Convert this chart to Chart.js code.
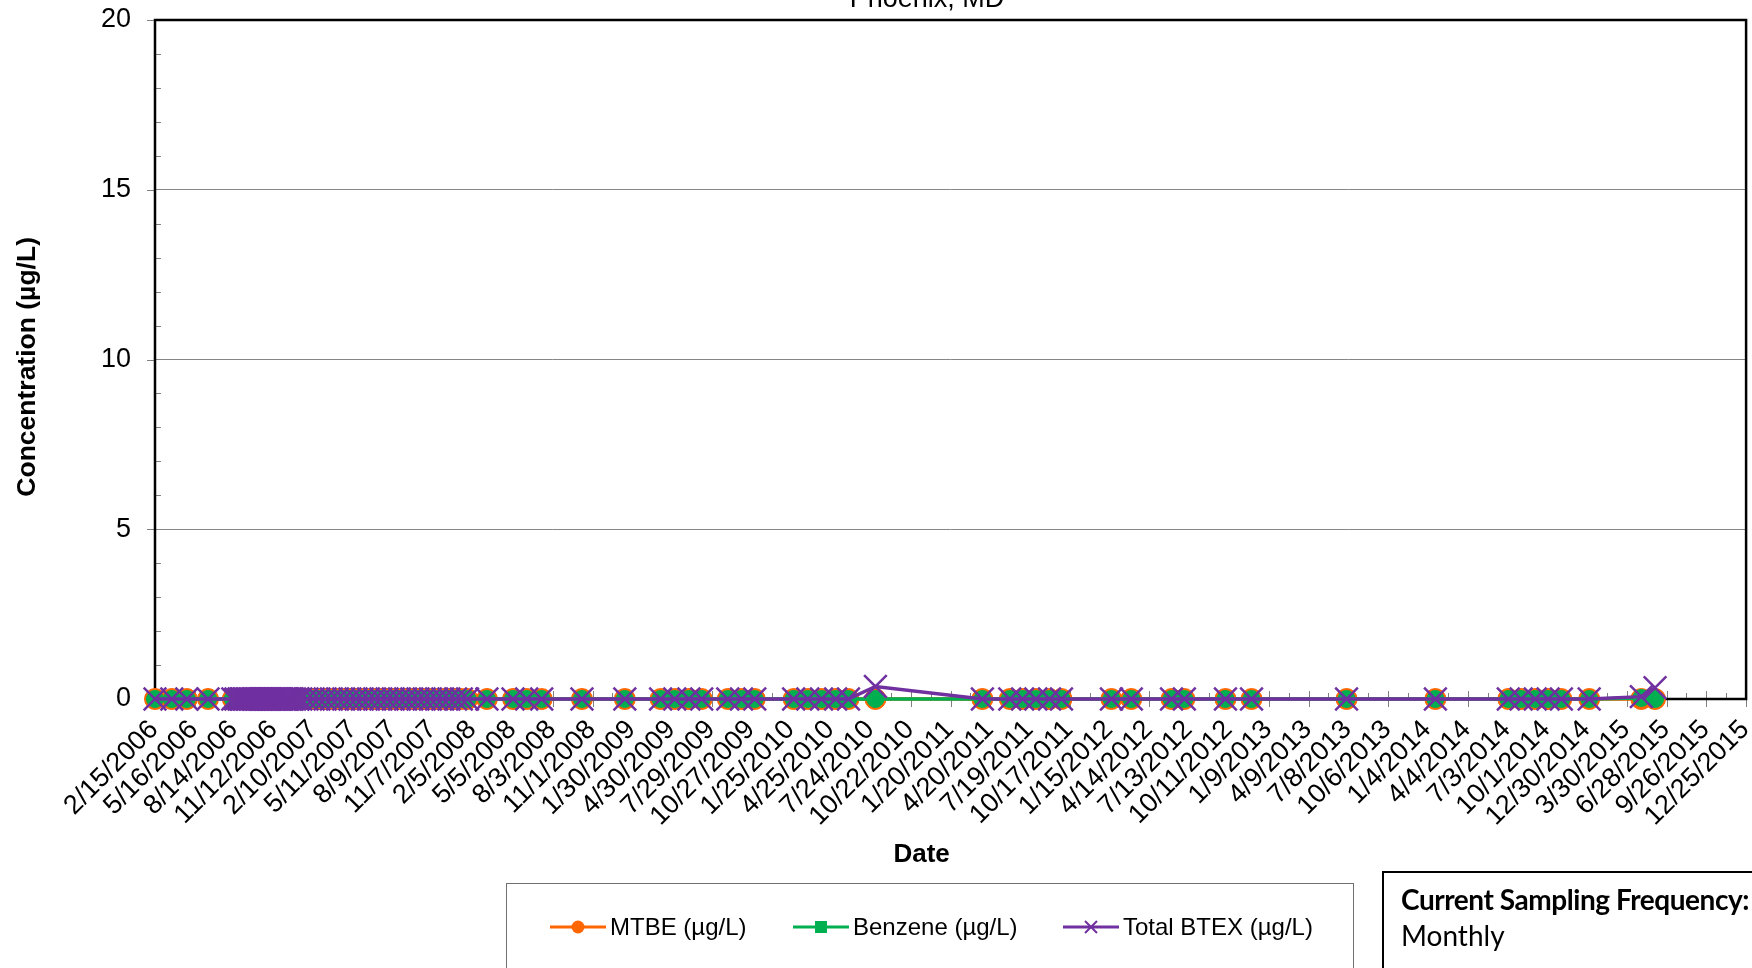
<!DOCTYPE html>
<html>
<head>
<meta charset="utf-8">
<script src="https://cdn.jsdelivr.net/npm/chart.js@4.4.1/dist/chart.umd.min.js"></script>
<style>
  html, body { margin: 0; padding: 0; background: #fff; overflow: hidden; width: 1752px; height: 968px; }
  #wrap { position: absolute; left: 0; top: 0; width: 1769px; height: 968px; }
  #site { position: absolute; left: 727px; top: -15px; width: 400px; text-align: center;
          font: 27px 'Liberation Sans', Arial, sans-serif; line-height: 27px; color: #000; }
  #legend { position: absolute; left: 506px; top: 883px; width: 848px; height: 120px;
            border: 1px solid #707070; box-sizing: border-box; }
  .item { position: absolute; top: 912px; height: 30px; display: flex; align-items: center;
          font: 24px 'Liberation Sans', Arial, sans-serif; color: #000; white-space: nowrap; }
  .item svg { margin-right: 4px; }
  #freq { position: absolute; left: 1382px; top: 871px; width: 430px; height: 130px;
          border: 2px solid #000; box-sizing: border-box; padding: 8px 0 0 17px;
          font: 28px Lato, 'Noto Sans', sans-serif; line-height: 36px; color: #000; white-space: nowrap; }
  #freq b { font-weight: 700; letter-spacing: -0.45px; }
</style>
</head>
<body>
<div id="wrap"><canvas id="chart"></canvas></div>
<div id="site">Phoenix, MD</div>
<div id="legend"></div>
<div id="freq"><b>Current Sampling Frequency:</b><br>Monthly</div>
<script>
// x axis tick labels (every 90 days)
const xTickLabels = [
  '2/15/2006', '5/16/2006', '8/14/2006', '11/12/2006', '2/10/2007', '5/11/2007', '8/9/2007',
  '11/7/2007', '2/5/2008', '5/5/2008', '8/3/2008', '11/1/2008', '1/30/2009', '4/30/2009',
  '7/29/2009', '10/27/2009', '1/25/2010', '4/25/2010', '7/24/2010', '10/22/2010', '1/20/2011',
  '4/20/2011', '7/19/2011', '10/17/2011', '1/15/2012', '4/14/2012', '7/13/2012', '10/11/2012',
  '1/9/2013', '4/9/2013', '7/8/2013', '10/6/2013', '1/4/2014', '4/4/2014', '7/3/2014',
  '10/1/2014', '12/30/2014', '3/30/2015', '6/28/2015', '9/26/2015', '12/25/2015'
];

// sampling dates
const sampleDates = [
  '2/15/2006', '3/25/2006', '4/28/2006', '6/15/2006', '8/10/2006',
  '8/17/2006', '8/24/2006', '8/28/2006', '8/31/2006', '9/4/2006', '9/7/2006', '9/11/2006', '9/14/2006', '9/18/2006', '9/21/2006', '9/25/2006', '9/28/2006',
  '10/2/2006', '10/5/2006', '10/9/2006', '10/12/2006', '10/16/2006', '10/19/2006', '10/23/2006', '10/26/2006', '10/30/2006',
  '11/2/2006', '11/6/2006', '11/9/2006', '11/13/2006', '11/16/2006', '11/20/2006', '11/23/2006', '11/27/2006', '11/30/2006',
  '12/4/2006', '12/7/2006', '12/11/2006', '12/14/2006', '12/18/2006', '12/21/2006', '12/28/2006', '1/4/2007',
  '1/11/2007', '1/25/2007', '2/8/2007', '2/21/2007', '3/7/2007', '3/21/2007', '4/4/2007', '4/18/2007', '5/2/2007', '5/16/2007', '5/30/2007', '6/13/2007', '6/27/2007',
  '7/11/2007', '7/25/2007', '8/8/2007', '8/22/2007', '9/5/2007', '9/19/2007', '10/3/2007', '10/17/2007', '10/31/2007', '11/14/2007', '11/28/2007', '12/12/2007', '12/27/2007', '1/9/2008', '1/23/2008',
  '3/7/2008', '5/5/2008', '6/5/2008', '7/9/2008', '10/8/2008', '1/13/2009', '4/4/2009', '5/6/2009', '6/7/2009', '7/6/2009', '9/3/2009', '10/4/2009', '11/3/2009',
  '1/30/2010', '3/3/2010', '4/3/2010', '5/5/2010', '6/3/2010', '8/3/2010', '4/2/2011', '6/3/2011', '7/2/2011', '8/1/2011', '9/1/2011', '9/28/2011',
  '1/19/2012', '3/4/2012', '6/3/2012', '7/2/2012', '10/3/2012', '12/1/2012', '7/4/2013', '1/21/2014', '7/5/2014', '8/3/2014', '9/4/2014', '10/3/2014', '11/2/2014', '1/4/2015', '5/2/2015', '6/2/2015'
];

// concentrations, µg/L (rows match the date rows above)
const mtbe = [
  0, 0, 0, 0, 0,
  0, 0, 0, 0, 0, 0, 0, 0, 0, 0, 0, 0,
  0, 0, 0, 0, 0, 0, 0, 0, 0,
  0, 0, 0, 0, 0, 0, 0, 0, 0,
  0, 0, 0, 0, 0, 0, 0, 0,
  0, 0, 0, 0, 0, 0, 0, 0, 0, 0, 0, 0, 0,
  0, 0, 0, 0, 0, 0, 0, 0, 0, 0, 0, 0, 0, 0, 0,
  0, 0, 0, 0, 0, 0, 0, 0, 0, 0, 0, 0, 0,
  0, 0, 0, 0, 0, 0, 0, 0, 0, 0, 0, 0,
  0, 0, 0, 0, 0, 0, 0, 0, 0, 0, 0, 0, 0, 0, 0, 0
];
const benzene = [
  0, 0, 0, 0, 0,
  0, 0, 0, 0, 0, 0, 0, 0, 0, 0, 0, 0,
  0, 0, 0, 0, 0, 0, 0, 0, 0,
  0, 0, 0, 0, 0, 0, 0, 0, 0,
  0, 0, 0, 0, 0, 0, 0, 0,
  0, 0, 0, 0, 0, 0, 0, 0, 0, 0, 0, 0, 0,
  0, 0, 0, 0, 0, 0, 0, 0, 0, 0, 0, 0, 0, 0, 0,
  0, 0, 0, 0, 0, 0, 0, 0, 0, 0, 0, 0, 0,
  0, 0, 0, 0, 0, 0, 0, 0, 0, 0, 0, 0,
  0, 0, 0, 0, 0, 0, 0, 0, 0, 0, 0, 0, 0, 0, 0.03, 0
];
const btex = [
  0, 0, 0, 0, 0,
  0, 0, 0, 0, 0, 0, 0, 0, 0, 0, 0, 0,
  0, 0, 0, 0, 0, 0, 0, 0, 0,
  0, 0, 0, 0, 0, 0, 0, 0, 0,
  0, 0, 0, 0, 0, 0, 0, 0,
  0, 0, 0, 0, 0, 0, 0, 0, 0, 0, 0, 0, 0,
  0, 0, 0, 0, 0, 0, 0, 0, 0, 0, 0, 0, 0, 0, 0,
  0, 0, 0, 0, 0, 0, 0, 0, 0, 0, 0, 0, 0,
  0, 0, 0, 0, 0, 0.37, 0, 0, 0, 0, 0, 0,
  0, 0, 0, 0, 0, 0, 0, 0, 0, 0, 0, 0, 0, 0, 0.07, 0.33
];

const seriesNames = ['MTBE (µg/L)', 'Benzene (µg/L)', 'Total BTEX (µg/L)'];
const seriesColors = ['#FF6600', '#00B050', '#7030A0'];

const FONT = "'Liberation Sans', Arial, sans-serif";
const DAY = 86400000;

function parseDate(s) {
  const [m, d, y] = s.split('/').map(Number);
  return Date.UTC(y, m - 1, d);
}
const origin = parseDate(xTickLabels[0]);
const toDay = s => Math.round((parseDate(s) - origin) / DAY);
const xMax = toDay(xTickLabels[xTickLabels.length - 1]);

function toPoints(values) {
  return sampleDates.map((s, i) => ({ x: toDay(s), y: values[i] }));
}

// plot frame + tick marks (major cross the axis, minor inside), drawn under the series
const frameAndTicks = {
  id: 'frameAndTicks',
  beforeDatasetsDraw(chart) {
    const { ctx, chartArea: a, scales: { x, y } } = chart;
    ctx.save();
    ctx.strokeStyle = '#808080';
    ctx.lineWidth = 1;
    ctx.beginPath();
    for (let d = 0; d <= xMax; d += 45) {
      const px = Math.round(x.getPixelForValue(d)) + 0.5;
      const major = d % 90 === 0;
      ctx.moveTo(px, a.bottom + (major ? 8 : 0));
      ctx.lineTo(px, a.bottom - (major ? 8 : 6));
    }
    for (let v = 0; v <= 20; v++) {
      const py = Math.round(y.getPixelForValue(v)) + 0.5;
      if (v % 5 === 0) { ctx.moveTo(a.left - 8, py); ctx.lineTo(a.left, py); }
      else { ctx.moveTo(a.left, py); ctx.lineTo(a.left + 6, py); }
    }
    ctx.stroke();
    ctx.strokeStyle = '#000';
    ctx.lineWidth = 2.5;
    ctx.strokeRect(a.left, a.top, a.right - a.left, a.bottom - a.top);
    ctx.restore();
  }
};

const styles = [
  { pointStyle: 'circle', pointRadius: 10.5, pointBorderWidth: 1, order: 3 },
  { pointStyle: 'circle', pointRadius: 8.5, pointBorderWidth: 1, order: 2 },
  { pointStyle: 'crossRot', pointRadius: 16, pointBorderWidth: 2.5, order: 1 }
];
const seriesValues = [mtbe, benzene, btex];

new Chart(document.getElementById('chart'), {
  type: 'line',
  data: {
    datasets: seriesNames.map((name, i) => ({
      label: name,
      data: toPoints(seriesValues[i]),
      borderColor: seriesColors[i],
      backgroundColor: seriesColors[i],
      pointBackgroundColor: seriesColors[i],
      pointBorderColor: seriesColors[i],
      borderWidth: 3.5,
      tension: 0,
      clip: false,
      ...styles[i]
    }))
  },
  options: {
    responsive: true,
    maintainAspectRatio: false,
    animation: false,
    layout: { padding: { left: 0, top: 20, right: 0, bottom: 93 } },
    plugins: { legend: { display: false }, tooltip: { enabled: false } },
    scales: {
      x: {
        type: 'linear',
        min: 0,
        max: xMax,
        afterFit: s => { s.height = 176; },
        border: { display: false },
        grid: { drawOnChartArea: false, drawTicks: true, tickLength: 15, tickColor: 'rgba(0,0,0,0)' },
        ticks: {
          stepSize: 90,
          autoSkip: false,
          minRotation: 45,
          maxRotation: 45,
          padding: 0,
          labelOffset: -1,
          color: '#000',
          font: { family: FONT, size: 27 },
          callback: (v, i) => xTickLabels[i]
        },
        title: {
          display: true, text: 'Date' + '\u00a0'.repeat(8), color: '#000',
          font: { family: FONT, size: 26, weight: 'bold' },
          padding: { top: 0, bottom: 5 }
        }
      },
      y: {
        min: 0,
        max: 20,
        afterFit: s => { s.width = 155; },
        border: { display: false },
        grid: { color: '#868686', tickLength: 24, tickColor: 'rgba(0,0,0,0)' },
        ticks: { stepSize: 5, padding: 0, color: '#000', font: { family: FONT, size: 27 } },
        title: {
          display: true, text: 'Concentration (µg/L)\u00a0\u00a0', color: '#000',
          font: { family: FONT, size: 26.5, weight: 'bold' },
          padding: { top: 12, bottom: 0 }
        }
      }
    }
  },
  plugins: [frameAndTicks]
});

// legend: line sample with marker, as in the spreadsheet chart
const legendLeft = [550, 793, 1063];
const markerSvg = [
  c => `<circle cx="28" cy="15" r="6.5" fill="${c}"/>`,
  c => `<rect x="22" y="9" width="12" height="12" fill="${c}"/>`,
  c => `<path d="M22 9 L34 21 M34 9 L22 21" stroke="${c}" stroke-width="2"/>`
];
seriesNames.forEach((name, i) => {
  const el = document.createElement('div');
  el.className = 'item';
  el.style.left = legendLeft[i] + 'px';
  el.innerHTML = `<svg width="56" height="30"><line x1="0" y1="15" x2="56" y2="15" stroke="${seriesColors[i]}" stroke-width="3"/>${markerSvg[i](seriesColors[i])}</svg><span>${name}</span>`;
  document.body.appendChild(el);
});
</script>
</body>
</html>
